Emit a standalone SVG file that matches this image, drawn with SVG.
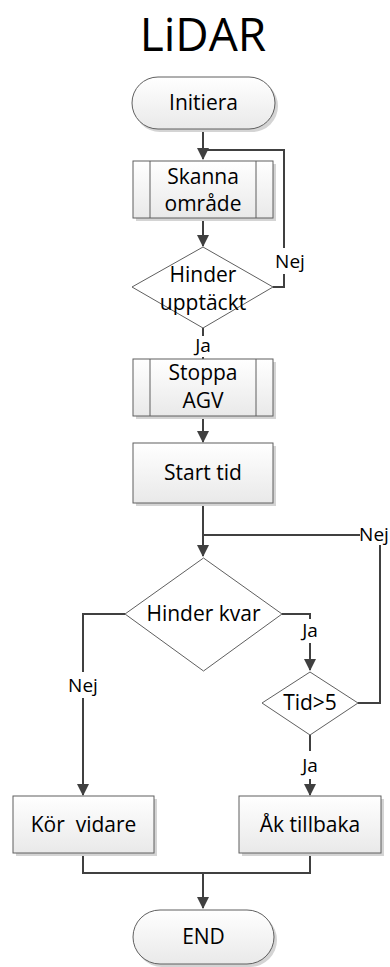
<svg xmlns="http://www.w3.org/2000/svg" width="390" height="967" viewBox="0 0 390 967">
  <defs>
    <linearGradient id="boxFill" x1="0" y1="0" x2="0" y2="1">
      <stop offset="0" stop-color="#ffffff"/>
      <stop offset="1" stop-color="#e9e9e9"/>
    </linearGradient>
    <marker id="arrow" viewBox="0 0 12 12" refX="11" refY="6" markerWidth="12" markerHeight="12" markerUnits="userSpaceOnUse" orient="auto">
      <path d="M0,0 L12,6 L0,12 Z" fill="#404040"/>
    </marker>
    <style>
      .node { fill: url(#boxFill); stroke: #5f5f5f; stroke-width: 1; }
      .dia { fill: #ffffff; stroke: #5f5f5f; stroke-width: 1; }
      .shadow { fill: #d4d4d4; stroke: none; }
      .inner { fill: none; stroke: #5f5f5f; stroke-width: 1; }
      .txt { font-family: "Open Sans", "Liberation Sans", sans-serif; font-size: 21px; fill: #000000; text-anchor: middle; }
      .lbl { font-family: "Open Sans", "Liberation Sans", sans-serif; font-size: 19px; fill: #000000; text-anchor: middle; }
      .lblbg { fill: #ffffff; stroke: none; }
      .conn { fill: none; stroke: #404040; stroke-width: 2; }
    </style>
  </defs>
  <rect width="390" height="967" fill="#ffffff"/>

  <text x="203" y="51" font-family="Open Sans, Liberation Sans, sans-serif" font-size="46" text-anchor="middle" fill="#000000">LiDAR</text>

  <!-- connectors -->
  <g id="connectors">
    <path class="conn" d="M203,129 V159" marker-end="url(#arrow)"/>
    <path class="conn" d="M273,287 H284 V150 H203"/>
    <path class="conn" d="M203,218 V246" marker-end="url(#arrow)"/>
    <path class="conn" d="M203,328 V359"/>
    <path class="conn" d="M203,416 V442" marker-end="url(#arrow)"/>
    <path class="conn" d="M203,503 V556" marker-end="url(#arrow)"/>
    <path class="conn" d="M358,703 H380 V535 H203"/>
    <path class="conn" d="M125,614 H83 V795" marker-end="url(#arrow)"/>
    <path class="conn" d="M282,614 H310 V670" marker-end="url(#arrow)"/>
    <path class="conn" d="M310,735 V795" marker-end="url(#arrow)"/>
    <path class="conn" d="M83,853 V873 H310 V853"/>
    <path class="conn" d="M203,873 V908" marker-end="url(#arrow)"/>

    <rect class="lblbg" x="274" y="248" width="32" height="26"/>
    <text class="lbl" x="290" y="268">Nej</text>
    <rect class="lblbg" x="191" y="336" width="24" height="21"/>
    <text class="lbl" x="203" y="352">Ja</text>
    <rect class="lblbg" x="360" y="526" width="29" height="19"/>
    <text class="lbl" x="374" y="541" font-size="16">Nej</text>
    <rect class="lblbg" x="299" y="619" width="22" height="24"/>
    <text class="lbl" x="310" y="637">Ja</text>
    <rect class="lblbg" x="66" y="672" width="34" height="26"/>
    <text class="lbl" x="83" y="692" font-size="20">Nej</text>
    <rect class="lblbg" x="299" y="751" width="22" height="28"/>
    <text class="lbl" x="310" y="772">Ja</text>
  </g>

  <g id="initiera">
    <rect class="shadow" x="134" y="80" width="144" height="52" rx="26"/>
    <rect class="node" x="132" y="77" width="143" height="52" rx="26"/>
    <text class="txt" x="203.5" y="110">Initiera</text>
  </g>

  <g id="skanna">
    <rect class="shadow" x="136" y="164" width="140" height="57"/>
    <rect class="node" x="133" y="161" width="140" height="57"/>
    <line class="inner" x1="150" y1="161" x2="150" y2="218"/>
    <line class="inner" x1="256" y1="161" x2="256" y2="218"/>
    <text class="txt" x="203" y="184">Skanna</text>
    <text class="txt" x="203" y="211">område</text>
  </g>

  <g id="hinder-upptackt">
    <polygon class="dia" points="203,247 273,287 203,328 132,287"/>
    <text class="txt" x="203" y="282">Hinder</text>
    <text class="txt" x="203" y="310">upptäckt</text>
  </g>

  <g id="stoppa">
    <rect class="shadow" x="136" y="362" width="140" height="57"/>
    <rect class="node" x="133" y="359" width="140" height="57"/>
    <line class="inner" x1="150" y1="359" x2="150" y2="416"/>
    <line class="inner" x1="256" y1="359" x2="256" y2="416"/>
    <text class="txt" x="203" y="380">Stoppa</text>
    <text class="txt" x="203" y="408">AGV</text>
  </g>

  <g id="start-tid">
    <rect class="shadow" x="136" y="446" width="140" height="60"/>
    <rect class="node" x="133" y="443" width="140" height="60"/>
    <text class="txt" x="203" y="480">Start tid</text>
  </g>

  <g id="hinder-kvar">
    <polygon class="dia" points="203.5,558 282,614 203.5,671 125,614"/>
    <text class="txt" x="203.5" y="621">Hinder kvar</text>
  </g>

  <g id="tid">
    <polygon class="dia" points="310,672 358,703 310,735 262,703"/>
    <text class="txt" x="310" y="710">Tid&gt;5</text>
  </g>

  <g id="kor-vidare">
    <rect class="shadow" x="16" y="799" width="141" height="57"/>
    <rect class="node" x="13" y="796" width="141" height="57"/>
    <text class="txt" x="83.5" y="832" xml:space="preserve">Kör  vidare</text>
  </g>

  <g id="ak-tillbaka">
    <rect class="shadow" x="242" y="799" width="142" height="57"/>
    <rect class="node" x="239" y="796" width="142" height="57"/>
    <text class="txt" x="310" y="832">Åk tillbaka</text>
  </g>

  <g id="end">
    <rect class="shadow" x="135" y="913" width="142" height="54" rx="27"/>
    <rect class="node" x="133" y="910" width="141" height="54" rx="27"/>
    <text class="txt" x="203.5" y="944">END</text>
  </g>
</svg>
